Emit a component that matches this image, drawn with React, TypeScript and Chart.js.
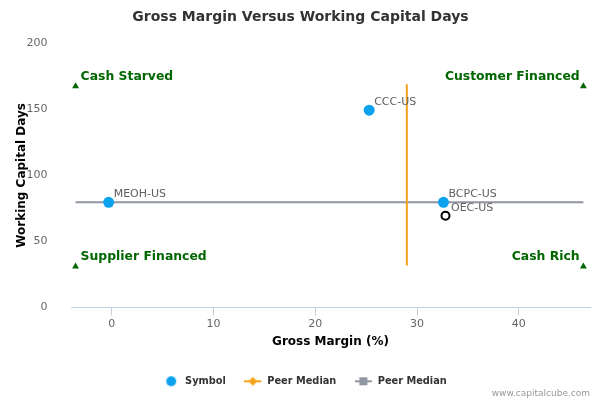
import { useEffect, useRef } from "react";
import { Chart, ChartOptions, Plugin, registerables } from "chart.js";

Chart.register(...registerables);

const FONT = "'DejaVu Sans', sans-serif";

// peers
const symbols = ["MEOH-US", "CCC-US", "BCPC-US"];
const grossMargin = [-0.3, 25.3, 32.6];
const workingCapitalDays = [79.6, 149.4, 79.6];

// the company itself (hollow marker)
const focusSymbol = ["OEC-US"];
const focusMargin = [32.8];
const focusDays = [69.4];

// peer medians
const medianMargin = 29.0;
const medianDays = 79.6;
const medianMarginSpan = [31.8, 169.0];

// quadrant corners
const quadrantMargin = [-3.55, 46.35];
const quadrantDays = [31.1, 167.4];
const quadrantLabels = ["Supplier Financed", "Cash Rich", "Cash Starved", "Customer Financed"];

const xTicks = [0, 10, 20, 30, 40];
const yTicks = [0, 50, 100, 150, 200];

const BLUE = "#0ca2ef";
const ORANGE = "#f7a21c";
const GREY = "#9095a2";
const GREEN = "#006600";

function legendIcon(kind: string) {
  const c = document.createElement("canvas");
  c.width = 18;
  c.height = 12;
  const ctx = c.getContext("2d")!;
  if (kind === "circle") {
    ctx.fillStyle = BLUE;
    ctx.beginPath();
    ctx.arc(9, 6, 5, 0, Math.PI * 2);
    ctx.fill();
  } else {
    const col = kind === "diamond" ? ORANGE : GREY;
    ctx.fillStyle = col;
    ctx.fillRect(0, 5, 17, 2);
    ctx.beginPath();
    if (kind === "diamond") {
      ctx.moveTo(8.5, 1.5);
      ctx.lineTo(13, 6);
      ctx.lineTo(8.5, 10.5);
      ctx.lineTo(4, 6);
    } else {
      ctx.rect(4.5, 2, 8, 8);
    }
    ctx.fill();
  }
  return c;
}

// labels next to points, quadrant names and the credit line
const annotations: Plugin = {
  id: "annotations",
  afterDatasetsDraw(chart) {
    const { ctx } = chart;
    ctx.save();
    ctx.textBaseline = "alphabetic";
    ctx.font = `11px ${FONT}`;
    ctx.fillStyle = "#606060";
    ctx.textAlign = "left";
    chart.getDatasetMeta(0).data.forEach((pt, i) => {
      ctx.fillText(symbols[i], pt.x + 5, pt.y - 5.5);
    });
    chart.getDatasetMeta(3).data.forEach((pt, i) => {
      ctx.fillText(focusSymbol[i], pt.x + 5.5, pt.y - 4.5);
    });

    ctx.font = `bold 12.4px ${FONT}`;
    ctx.fillStyle = GREEN;
    chart.getDatasetMeta(4).data.forEach((pt, i) => {
      const right = i % 2 === 1;
      ctx.textAlign = right ? "right" : "left";
      ctx.fillText(quadrantLabels[i], pt.x + (right ? -3.7 : 5), pt.y - 6.3);
    });

    ctx.font = `9px ${FONT}`;
    ctx.fillStyle = "#999999";
    ctx.textAlign = "right";
    ctx.fillText("www.capitalcube.com", 590, 396);
    ctx.restore();
  },
  afterLayout(chart) {
    // the original centres title and legend on the full width
    const c = chart as any;
    if (c.titleBlock) {
      c.titleBlock.left += 5.5;
      c.titleBlock.right += 5.5;
    }
    if (chart.legend) {
      chart.legend.left += 9.5;
      chart.legend.right += 9.5;
    }
  },
};

export default function App() {
  const chartRef = useRef<HTMLCanvasElement>(null);
  const chartInstance = useRef<Chart | null>(null);

  useEffect(() => {
    if (!chartRef.current) return;
    if (chartInstance.current) chartInstance.current.destroy();
    const ctx = chartRef.current.getContext("2d");
    if (!ctx) return;

    const icons = [legendIcon("circle"), legendIcon("diamond"), legendIcon("square")];

    const quadrantPoints = [
      { x: quadrantMargin[0], y: quadrantDays[0] },
      { x: quadrantMargin[1], y: quadrantDays[0] },
      { x: quadrantMargin[0], y: quadrantDays[1] },
      { x: quadrantMargin[1], y: quadrantDays[1] },
    ];

    const options: ChartOptions<"scatter"> = {
      responsive: false,
      animation: false,
      devicePixelRatio: 1,
      layout: { padding: { left: 0, right: 10, top: 0, bottom: 3.8 } },
      plugins: {
        title: {
          display: true,
          text: "Gross Margin Versus Working Capital Days",
          color: "#333333",
          font: { family: FONT, size: 14, weight: "bold" },
          padding: { top: 9, bottom: 17.5 },
        },
        legend: {
          position: "bottom",
          labels: {
            usePointStyle: true,
            pointStyleWidth: 18,
            padding: 18.5,
            color: "#333333",
            font: { family: FONT, size: 9.8, weight: "bold" },
            generateLabels: (chart) =>
              [0, 1, 2].map((i) => ({
                text: chart.data.datasets[i].label as string,
                pointStyle: icons[i],
                datasetIndex: i,
                hidden: false,
                lineWidth: 0,
                fontColor: "#333333",
              })),
          },
        },
        tooltip: { enabled: false },
      },
      scales: {
        x: {
          type: "linear",
          min: -4,
          max: 47,
          afterBuildTicks: (scale) => {
            scale.ticks = xTicks.map((v) => ({ value: v }));
          },
          afterFit: (scale) => {
            scale.height = 50.4;
          },
          ticks: {
            autoSkip: false,
            maxRotation: 0,
            padding: 2,
            color: "#666666",
            font: { family: FONT, size: 11 },
          },
          grid: {
            drawOnChartArea: false,
            drawTicks: true,
            tickLength: 8,
            tickColor: "#c0d0e0",
            color: "#c0d0e0",
          },
          border: { display: true, color: "#c0d0e0", width: 1 },
          title: {
            display: true,
            text: "Gross Margin (%)",
            color: "#000000",
            font: { family: FONT, size: 12, weight: "bold" },
            padding: { top: 0, bottom: 8.6 },
          },
        },
        y: {
          type: "linear",
          min: 0,
          max: 200,
          afterBuildTicks: (scale) => {
            scale.ticks = yTicks.map((v) => ({ value: v }));
          },
          afterFit: (scale) => {
            scale.width = 71;
          },
          ticks: {
            padding: 15.5,
            color: "#666666",
            font: { family: FONT, size: 11 },
          },
          grid: { display: false },
          border: { display: false },
          title: {
            display: true,
            text: "Working Capital Days",
            color: "#000000",
            font: { family: FONT, size: 12, weight: "bold" },
            padding: { top: 14.3, bottom: 0 },
          },
        },
      },
    };

    chartInstance.current = new Chart(ctx, {
      type: "scatter",
      data: {
        datasets: [
          {
            label: "Symbol",
            data: grossMargin.map((x, i) => ({ x, y: workingCapitalDays[i] })),
            backgroundColor: BLUE,
            borderWidth: 0,
            pointRadius: 5.5,
          },
          {
            label: "Peer Median",
            data: medianMarginSpan.map((y) => ({ x: medianMargin, y })),
            showLine: true,
            borderColor: ORANGE,
            borderWidth: 2,
            pointRadius: 0,
          },
          {
            label: "Peer Median",
            data: [
              { x: quadrantMargin[0], y: medianDays },
              { x: quadrantMargin[1], y: medianDays },
            ],
            showLine: true,
            borderColor: GREY,
            borderWidth: 2,
            pointRadius: 0,
          },
          {
            label: "Company",
            data: focusMargin.map((x, i) => ({ x, y: focusDays[i] })),
            backgroundColor: "#ffffff",
            borderColor: "#000000",
            borderWidth: 2,
            pointRadius: 4,
          },
          {
            label: "Quadrants",
            data: quadrantPoints,
            pointStyle: "triangle",
            backgroundColor: GREEN,
            borderWidth: 0,
            pointRadius: 4,
          },
        ],
      },
      options,
      plugins: [annotations],
    });

    return () => {
      if (chartInstance.current) {
        chartInstance.current.destroy();
        chartInstance.current = null;
      }
    };
  }, []);

  return (
    <div style={{ position: "absolute", left: 0, top: 0, width: 600, height: 400, background: "#ffffff" }}>
      <canvas ref={chartRef} width={600} height={400} style={{ display: "block" }}></canvas>
    </div>
  );
}
